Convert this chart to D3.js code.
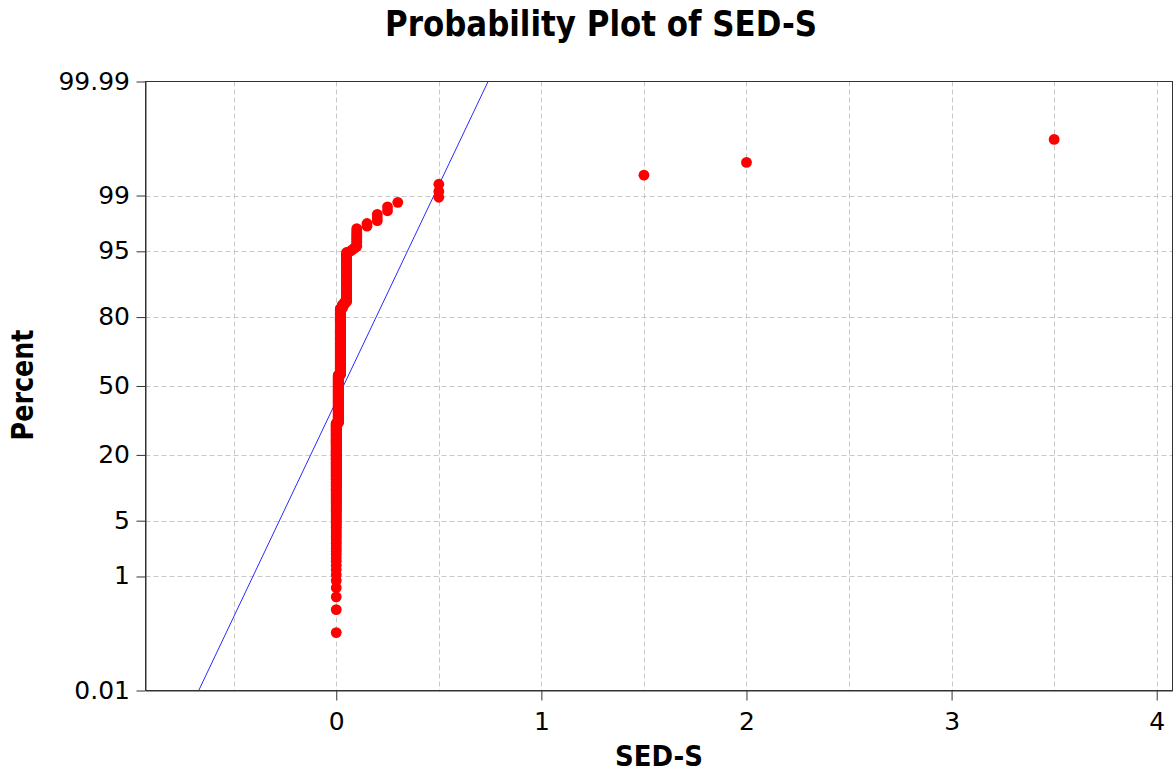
<!DOCTYPE html>
<html>
<head>
<meta charset="utf-8">
<script src="https://cdn.jsdelivr.net/npm/d3@7"></script>
<style>
  html, body { margin: 0; padding: 0; background: #ffffff; }
  svg { display: block; }
  text { font-family: "DejaVu Sans", Verdana, sans-serif; fill: #000; }
</style>
</head>
<body>
<svg id="chart" width="1174" height="773"></svg>
<script>
// SED-S observations: distinct values and how many times each occurs
const sedValues = [0, 0.01, 0.02, 0.03, 0.04, 0.05, 0.07, 0.08, 0.09, 0.1, 0.15, 0.2, 0.25, 0.3, 0.5, 1.5, 2, 3.5];
const sedCounts = [175, 123, 148, 6, 4, 55, 1, 1, 1, 10, 2, 3, 2, 1, 3, 1, 1, 1];

// Axis ticks
const percentTicks = [0.01, 1, 5, 20, 50, 80, 95, 99, 99.99];
const percentTickLabels = ["0.01", "1", "5", "20", "50", "80", "95", "99", "99.99"];
const percentGrid = [1, 5, 20, 50, 80, 95, 99];
const xTicks = [0, 1, 2, 3, 4];
const xGrid = [-0.5, 0, 0.5, 1, 1.5, 2, 2.5, 3, 3.5, 4];

const titleText = "Probability Plot of SED-S";
const xLabel = "SED-S";
const yLabel = "Percent";

// Inverse of the standard normal CDF (Acklam's rational approximation)
function probit(p) {
  const a = [-3.969683028665376e+01, 2.209460984245205e+02, -2.759285104469687e+02, 1.383577518672690e+02, -3.066479806614716e+01, 2.506628277459239e+00];
  const b = [-5.447609879822406e+01, 1.615858368580409e+02, -1.556989798598866e+02, 6.680131188771972e+01, -1.328068155288572e+01];
  const c = [-7.784894002430293e-03, -3.223964580411365e-01, -2.400758277161838e+00, -2.549732539343734e+00, 4.374664141464968e+00, 2.938163982698783e+00];
  const d = [7.784695709041462e-03, 3.224671290700398e-01, 2.445134137142996e+00, 3.754408661907416e+00];
  const pl = 0.02425, ph = 1 - pl;
  if (p < pl) {
    const q = Math.sqrt(-2 * Math.log(p));
    return (((((c[0]*q+c[1])*q+c[2])*q+c[3])*q+c[4])*q+c[5]) / ((((d[0]*q+d[1])*q+d[2])*q+d[3])*q+1);
  }
  if (p <= ph) {
    const q = p - 0.5, r = q * q;
    return (((((a[0]*r+a[1])*r+a[2])*r+a[3])*r+a[4])*r+a[5])*q / (((((b[0]*r+b[1])*r+b[2])*r+b[3])*r+b[4])*r+1);
  }
  const q = Math.sqrt(-2 * Math.log(1 - p));
  return -(((((c[0]*q+c[1])*q+c[2])*q+c[3])*q+c[4])*q+c[5]) / ((((d[0]*q+d[1])*q+d[2])*q+d[3])*q+1);
}

// Expand to individual sorted observations and assign median-rank plotting positions
const obs = [];
sedValues.forEach((v, k) => { for (let j = 0; j < sedCounts[k]; j++) obs.push(v); });
obs.sort((p, q) => p - q);
const n = obs.length;
const points = obs.map((v, i) => ({ x: v, p: (i + 1 - 0.3) / (n + 0.4) }));

const mu = d3.mean(obs);
const sigma = d3.deviation(obs);

// Plot area
const plotLeft = 145.5, plotRight = 1172.5, plotTop = 81.5, plotBottom = 690.5;

const svg = d3.select("#chart");

const x = d3.scaleLinear().domain([-0.93, 4.077]).range([plotLeft, plotRight]);
const zMin = probit(0.0001), zMax = probit(0.9999);
const yz = d3.scaleLinear().domain([zMin, zMax]).range([plotBottom, plotTop]);
const y = pct => yz(probit(pct / 100));

// Grid
const grid = svg.append("g").attr("stroke", "#c8c8c8").attr("stroke-width", 1).attr("stroke-dasharray", "5,3");
grid.selectAll("line.gx").data(xGrid).join("line")
  .attr("class", "gx")
  .attr("x1", d => Math.round(x(d)) + 0.5).attr("x2", d => Math.round(x(d)) + 0.5)
  .attr("y1", plotTop).attr("y2", plotBottom);
grid.selectAll("line.gy").data(percentGrid).join("line")
  .attr("class", "gy")
  .attr("y1", d => Math.round(y(d)) + 0.5).attr("y2", d => Math.round(y(d)) + 0.5)
  .attr("x1", plotLeft).attr("x2", plotRight);

// Clip region for the fitted line
svg.append("clipPath").attr("id", "plotClip")
  .append("rect").attr("x", plotLeft).attr("y", plotTop)
  .attr("width", plotRight - plotLeft).attr("height", plotBottom - plotTop);

// Fitted normal line
const fitPcts = [0.01, 99.99];
svg.append("path")
  .datum(fitPcts)
  .attr("clip-path", "url(#plotClip)")
  .attr("fill", "none")
  .attr("stroke", "#2a2aff")
  .attr("stroke-width", 1)
  .attr("d", d3.line().x(pc => x(mu + sigma * probit(pc / 100))).y(pc => y(pc)));

// Data points
svg.append("g").selectAll("circle").data(points).join("circle")
  .attr("cx", d => x(d.x))
  .attr("cy", d => yz(probit(d.p)))
  .attr("r", 5.4)
  .attr("fill", "#ff0000");

// Frame
svg.append("rect")
  .attr("x", plotLeft).attr("y", plotTop)
  .attr("width", plotRight - plotLeft).attr("height", plotBottom - plotTop)
  .attr("fill", "none").attr("stroke", "#333").attr("stroke-width", 1);

// Y axis
const yAxis = d3.axisLeft(yz)
  .tickValues(percentTicks.map(pc => probit(pc / 100)))
  .tickFormat((d, i) => percentTickLabels[i])
  .tickSize(9).tickSizeOuter(0).tickPadding(6);
const gy = svg.append("g").attr("transform", `translate(${plotLeft},0)`).call(yAxis);
gy.select(".domain").attr("stroke", "#333");
gy.selectAll(".tick line").attr("stroke", "#333");
gy.selectAll(".tick text")
  .attr("x", -15.5).attr("dy", "0.3em")
  .style("font-family", "'DejaVu Sans', Verdana, sans-serif")
  .style("font-size", "25px").attr("fill", "#000");

// X axis
const xAxis = d3.axisBottom(x).tickValues(xTicks).tickFormat(d3.format("d")).tickSize(10).tickSizeOuter(0);
const gx = svg.append("g").attr("transform", `translate(0,${plotBottom})`).call(xAxis);
gx.select(".domain").attr("stroke", "#333");
gx.selectAll(".tick line").attr("stroke", "#333");
gx.selectAll(".tick text")
  .attr("y", 39.5).attr("dy", null)
  .style("font-family", "'DejaVu Sans', Verdana, sans-serif")
  .style("font-size", "25px").attr("fill", "#000");

// Title and axis labels
svg.append("text")
  .attr("x", 601).attr("y", 36)
  .attr("text-anchor", "middle")
  .style("font-size", "35px").style("font-weight", "bold")
  .attr("textLength", 432).attr("lengthAdjust", "spacingAndGlyphs")
  .text(titleText);

svg.append("text")
  .attr("x", (plotLeft + plotRight) / 2).attr("y", 766)
  .attr("text-anchor", "middle")
  .style("font-size", "28px").style("font-weight", "bold")
  .attr("textLength", 88).attr("lengthAdjust", "spacingAndGlyphs")
  .text(xLabel);

svg.append("text")
  .attr("transform", `translate(33,385) rotate(-90)`)
  .attr("text-anchor", "middle")
  .style("font-size", "30px").style("font-weight", "bold")
  .attr("textLength", 111).attr("lengthAdjust", "spacingAndGlyphs")
  .text(yLabel);
</script>
</body>
</html>
